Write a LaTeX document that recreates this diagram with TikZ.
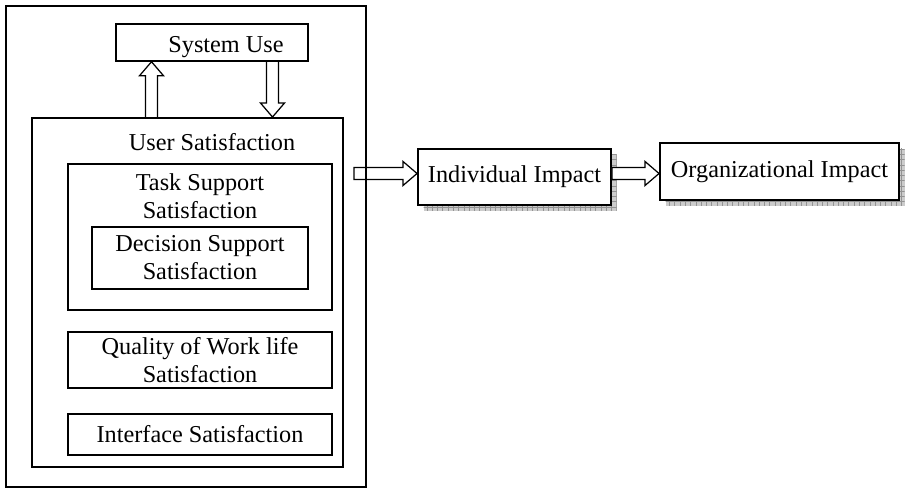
\documentclass[tikz,border=0pt]{standalone}
\usepackage{fontspec}
\setmainfont{Liberation Serif}
\usetikzlibrary{calc,shadows,patterns}

% hollow block arrow from #2 to #3
\newcommand{\hollowarrow}[3][]{%
  \coordinate (tip-base) at ($(#3)!0.28cm!(#2)$);
  \draw[blockarrow,#1] ($(#2)!0.12cm!90:(#3)$) -- ($(tip-base)!0.12cm!90:(#3)$)
    -- ($(tip-base)!0.24cm!90:(#3)$) -- (#3)
    -- ($(tip-base)!0.24cm!-90:(#3)$) -- ($(tip-base)!0.12cm!-90:(#3)$)
    -- ($(#2)!0.12cm!-90:(#3)$) -- cycle;}

\begin{document}
\begin{tikzpicture}[
    every node/.style={font=\fontsize{13.8}{16}\selectfont},
    box/.style={draw, line width=0.85pt, inner sep=0pt, align=center},
    shadowbox/.style={box, line width=1.1pt, fill=white,
      drop shadow={shadow xshift=0.11cm, shadow yshift=-0.12cm, opacity=1, fill=gray!40},
      drop shadow={shadow xshift=0.11cm, shadow yshift=-0.12cm, opacity=1, pattern=grid, pattern color=gray!85}},
    blockarrow/.style={line width=0.7pt, line join=miter}]
    \useasboundingbox (0,0) rectangle (18.1,9.94);

    % Outer frame
    \node[box, minimum width=7.2cm, minimum height=9.62cm] (frame) at (3.72,5.01) {};

    % System use
    \node[box, minimum width=3.84cm, minimum height=0.74cm] (sysuse) at (4.24,9.09) {};
    \node[anchor=base] (sysuselabel) at (4.52,8.88) {System Use};

    % User satisfaction and its parts
    \node[box, line width=1.1pt, minimum width=6.22cm, minimum height=6.98cm] (usersat) at (3.75,4.09) {};
    \node[anchor=base] (usersatlabel) at (4.24,6.93) {User Satisfaction};
    \node[box, minimum width=5.28cm, minimum height=2.92cm] (task) at (4.0,5.20) {};
    \node[align=center] (tasklabel) at (4.0,6.01) {Task Support\\Satisfaction};
    \node[box, minimum width=4.32cm, minimum height=1.24cm] (decision) at (4.0,4.78)
        {Decision Support\\Satisfaction};
    \node[box, minimum width=5.28cm, minimum height=1.12cm] (quality) at (4.0,2.74)
        {Quality of Work life\\Satisfaction};
    \node[box, minimum width=5.28cm, minimum height=0.82cm] (interface) at (4.0,1.25)
        {Interface Satisfaction};

    % Impacts
    \node[shadowbox, minimum width=3.86cm, minimum height=1.12cm] (indiv) at (10.29,6.40) {Individual Impact};
    \node[shadowbox, minimum width=4.78cm, minimum height=1.14cm] (org) at (15.59,6.51) {Organizational Impact};

    % Arrows
    \coordinate (up) at (3.03,7.58);
    \coordinate (upend) at (up |- sysuse.south);
    \hollowarrow{up}{upend}
    \coordinate (down) at (5.45,8.72);
    \coordinate (downend) at (down |- usersat.north);
    \hollowarrow{down}{downend}
    \coordinate (out) at (7.08,6.47);
    \coordinate (outend) at (out -| indiv.west);
    \hollowarrow{out}{outend}
    \coordinate (on) at (indiv.east |- out);
    \coordinate (onend) at (out -| org.west);
    \hollowarrow[fill=white]{on}{onend}
\end{tikzpicture}
\end{document}
